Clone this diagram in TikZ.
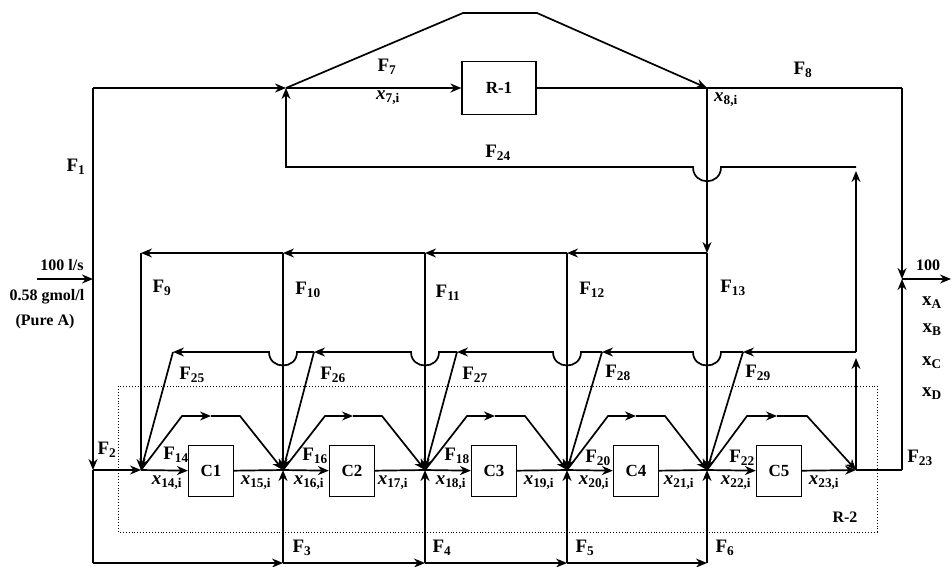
\documentclass[tikz,border=0pt]{standalone}
\usepackage{fontspec}
\setmainfont{Liberation Serif}
\usetikzlibrary{arrows.meta}
\newcommand{\fl}[1]{F\textsubscript{#1}}
\newcommand{\xl}[1]{\textit{x}\textsubscript{#1}}

\begin{document}
\begin{tikzpicture}[
    x=1pt, y=-1pt,
    line width=1.7pt,
    lbl/.style={font=\bfseries\fontsize{19}{21}\selectfont, inner sep=0pt},
    note/.style={font=\bfseries\fontsize{16}{18}\selectfont, inner sep=0pt},
    unit/.style={draw, line width=1.2pt, minimum width=45pt, minimum height=51pt, inner sep=0pt, font=\bfseries\fontsize{17}{19}\selectfont},
    arrow/.style={-{Stealth[length=11pt, width=9pt]}}
]
\useasboundingbox (0,0) rectangle (952,566);

% points of the flowsheet
\coordinate (src) at (37,279);
\coordinate (feed) at (93,279);
\coordinate (top1) at (93,88);
\coordinate (t7) at (286,88);
\coordinate (t8) at (707,88);
\coordinate (t8r) at (902,88);
\coordinate (out) at (902,279);
\coordinate (sink) at (951,279);
\coordinate (f2) at (93,470);
\coordinate (bot0) at (93,563);
\coordinate (d1) at (141,253);
\coordinate (d2) at (283,253);
\coordinate (d3) at (425,253);
\coordinate (d4) at (567,253);
\coordinate (d5) at (707,253);
\coordinate (j1) at (141,470);
\coordinate (j2) at (283,470);
\coordinate (j3) at (425,470);
\coordinate (j4) at (567,470);
\coordinate (j5) at (707,470);
\coordinate (j6) at (856,470);
\coordinate (o23) at (902,470);
\coordinate (bot2) at (283,563);
\coordinate (bot3) at (425,563);
\coordinate (bot4) at (567,563);
\coordinate (bot5) at (707,563);
\coordinate (r6) at (856,352);
\coordinate (k24) at (856,167);
\coordinate (a1) at (173,352);
\coordinate (a2) at (314,352);
\coordinate (a3) at (457,352);
\coordinate (a4) at (602,352);
\coordinate (a5) at (743,352);

% reactor R-2 (dotted)
\draw[line width=0.9pt, dotted] (118,386) rectangle (877,532);
\node[note] (lr2) at (845,517) {R-2};

% units
\node[unit, minimum width=74pt, minimum height=53pt] (r1) at (499,88) {R-1};
\node[unit] (c1) at (211,471) {C1};
\node[unit] (c2) at (352,471) {C2};
\node[unit] (c3) at (494,471) {C3};
\node[unit] (c4) at (636,471) {C4};
\node[unit] (c5) at (779,471) {C5};

% feed and R-1
\draw[arrow] (src) -- (feed);
\draw (top1) -- (feed);
\draw[arrow] (feed) -- (f2);
\draw (f2) -- (bot0);
\draw[arrow] (top1) -- (t7);
\draw[arrow] (t7) -- (r1);
\draw (r1) -- (t8);
\draw[arrow] (t7) -- (463,13) -- (537,13) -- (t8);
\draw (t8) -- (t8r);
\draw[arrow] (t8r) -- (out);
\draw[arrow] (out) -- (sink);

% distribution to R-2
\draw[arrow] (t8) -- (d5);
\draw[arrow] (d5) -- (d4);
\draw[arrow] (d4) -- (d3);
\draw[arrow] (d3) -- (d2);
\draw[arrow] (d2) -- (d1);
\draw[arrow] (d1) -- (j1);
\draw[arrow] (d2) -- (j2);
\draw[arrow] (d3) -- (j3);
\draw[arrow] (d4) -- (j4);
\draw[arrow] (d5) -- (j5);

% main line through C1..C5
\draw[arrow] (f2) -- (j1);
\draw[arrow] (j1) -- (c1);
\draw (c1) -- (j2);
\draw[arrow] (j2) -- (c2);
\draw (c2) -- (j3);
\draw[arrow] (j3) -- (c3);
\draw (c3) -- (j4);
\draw[arrow] (j4) -- (c4);
\draw (c4) -- (j5);
\draw[arrow] (j5) -- (c5);
\draw[arrow] (c5) -- (j6);
\draw (j6) -- (o23);
\draw[arrow] (o23) -- (out);

% bypass of each C
\draw[arrow] (j1) -- ++(41,-54) -- ++(29,0);
\draw[arrow] (j1) ++(70,-54) -- ++(29,0) -- (j2);
\draw[arrow] (j2) -- ++(42,-54) -- ++(28,0);
\draw[arrow] (j2) ++(70,-54) -- ++(29,0) -- (j3);
\draw[arrow] (j3) -- ++(42,-54) -- ++(28,0);
\draw[arrow] (j3) ++(70,-54) -- ++(30,0) -- (j4);
\draw[arrow] (j4) -- ++(41,-54) -- ++(28,0);
\draw[arrow] (j4) ++(69,-54) -- ++(29,0) -- (j5);
\draw[arrow] (j5) -- ++(40,-54) -- ++(30,0);
\draw[arrow] (j5) ++(70,-54) -- ++(30,0) -- (j6);

% side feed from the bottom
\draw[arrow] (bot0) -- (bot2);
\draw[arrow] (bot2) -- (bot3);
\draw[arrow] (bot3) -- (bot4);
\draw[arrow] (bot4) -- (bot5);
\draw[arrow] (bot2) -- (j2);
\draw[arrow] (bot3) -- (j3);
\draw[arrow] (bot4) -- (j4);
\draw[arrow] (bot5) -- (j5);

% recycle lines
\draw[arrow] (j6) -- ([yshift=-6pt]r6);
\draw[arrow] (r6) -- ([yshift=-4pt]k24);
\draw[arrow] (k24) -- ([xshift=14pt]t8 |- k24) .. controls +(0,19) and +(0,19) .. ([xshift=-14pt]t8 |- k24) -- (t7 |- k24) -- (t7);
\draw[arrow] (r6) -- (a5);
\draw[arrow] (a5) -- ([xshift=14pt]d5 |- r6) .. controls +(0,18) and +(0,18) .. ([xshift=-14pt]d5 |- r6) -- (a4);
\draw[arrow] (a4) -- ([xshift=14pt]d4 |- r6) .. controls +(0,18) and +(0,18) .. ([xshift=-14pt]d4 |- r6) -- (a3);
\draw[arrow] (a3) -- ([xshift=14pt]d3 |- r6) .. controls +(0,18) and +(0,18) .. ([xshift=-14pt]d3 |- r6) -- (a2);
\draw[arrow] (a2) -- ([xshift=14pt]d2 |- r6) .. controls +(0,18) and +(0,18) .. ([xshift=-14pt]d2 |- r6) -- (a1);
\draw[arrow] (a1) -- (j1);
\draw[arrow] (a2) -- (j2);
\draw[arrow] (a3) -- (j3);
\draw[arrow] (a4) -- (j4);
\draw[arrow] (a5) -- (j5);

% stream labels
\node[lbl] (lf1) at (76,167) {\fl{1}};
\node[lbl] (lf2) at (107,450) {\fl{2}};
\node[lbl] (lf3) at (302,548) {\fl{3}};
\node[lbl] (lf4) at (442,548) {\fl{4}};
\node[lbl] (lf5) at (585,548) {\fl{5}};
\node[lbl] (lf6) at (725,548) {\fl{6}};
\node[lbl] (lf7) at (387,67) {\fl{7}};
\node[lbl] (lf8) at (803,70) {\fl{8}};
\node[lbl] (lf9) at (162,288) {\fl{9}};
\node[lbl] (lf10) at (308,290) {\fl{10}};
\node[lbl] (lf11) at (448,293) {\fl{11}};
\node[lbl] (lf12) at (592,290) {\fl{12}};
\node[lbl] (lf13) at (733,288) {\fl{13}};
\node[lbl] (lf14) at (176,455) {\fl{14}};
\node[lbl] (lf16) at (315,456) {\fl{16}};
\node[lbl] (lf18) at (457,456) {\fl{18}};
\node[lbl] (lf20) at (598,458) {\fl{20}};
\node[lbl] (lf22) at (742,458) {\fl{22}};
\node[lbl] (lf23) at (920,458) {\fl{23}};
\node[lbl] (lf24) at (498,153) {\fl{24}};
\node[lbl] (lf25) at (192,375) {\fl{25}};
\node[lbl] (lf26) at (333,375) {\fl{26}};
\node[lbl] (lf27) at (475,375) {\fl{27}};
\node[lbl] (lf28) at (618,373) {\fl{28}};
\node[lbl] (lf29) at (758,373) {\fl{29}};

% composition labels
\node[lbl] (lx7) at (388,98) {\xl{7,i}};
\node[lbl] (lx8) at (726,100) {\xl{8,i}};
\node[lbl] (lx14) at (167,483) {\xl{14,i}};
\node[lbl] (lx15) at (256,483) {\xl{15,i}};
\node[lbl] (lx16) at (309,483) {\xl{16,i}};
\node[lbl] (lx17) at (393,483) {\xl{17,i}};
\node[lbl] (lx18) at (451,483) {\xl{18,i}};
\node[lbl] (lx19) at (539,483) {\xl{19,i}};
\node[lbl] (lx20) at (594,483) {\xl{20,i}};
\node[lbl] (lx21) at (679,483) {\xl{21,i}};
\node[lbl] (lx22) at (736,483) {\xl{22,i}};
\node[lbl] (lx23) at (824,483) {\xl{23,i}};

% feed and product notes
\node[note] (nrate) at (62,265) {100 l/s};
\node[note] (nconc) at (47,297) {0.58 gmol/l};
\node[note] (npure) at (45,322) {(Pure A)};
\node[note] (nout) at (928,265) {100};
\node[lbl] (nxa) at (932,303) {x\textsubscript{A}};
\node[lbl] (nxb) at (932,330) {x\textsubscript{B}};
\node[lbl] (nxc) at (932,363) {x\textsubscript{C}};
\node[lbl] (nxd) at (932,394) {x\textsubscript{D}};
\end{tikzpicture}
\end{document}
